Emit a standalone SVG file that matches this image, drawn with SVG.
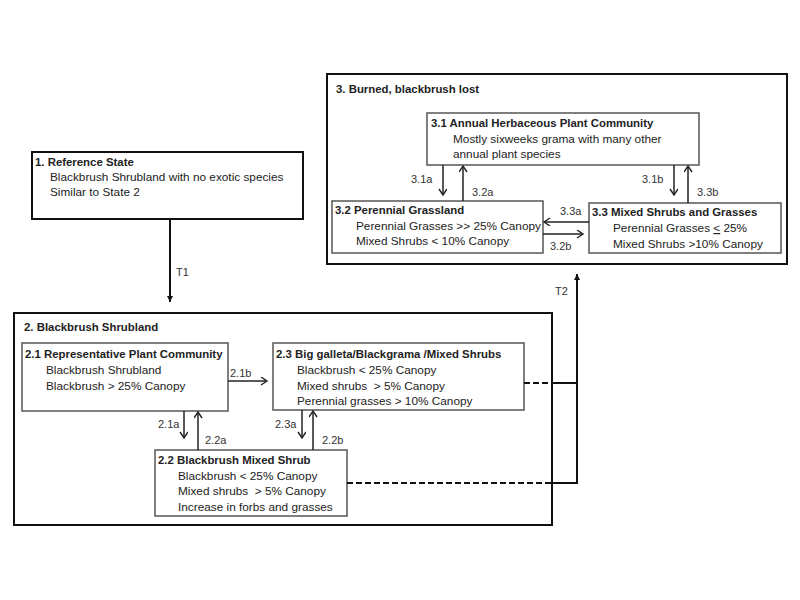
<svg xmlns="http://www.w3.org/2000/svg" width="800" height="600" viewBox="0 0 800 600">
<defs>
<marker id="open" markerWidth="10" markerHeight="10" refX="7" refY="4" orient="auto" markerUnits="userSpaceOnUse">
<path d="M1,0 L7,4 L1,8" fill="none" stroke="#222" stroke-width="1.4"/>
</marker>
<marker id="solid" markerWidth="8" markerHeight="8" refX="6" refY="3" orient="auto" markerUnits="userSpaceOnUse">
<path d="M0,0 L6,3 L0,6 Z" fill="#111"/>
</marker>
<style>
.state{fill:#fff;stroke:#111;stroke-width:2}
.phase{fill:#fff;stroke:#555;stroke-width:1.5}
text{font-family:"Liberation Sans",Arial,sans-serif;font-size:11.8px;fill:#222}
.b{font-weight:bold;font-size:11.4px}
.lbl{font-size:11px;fill:#333}
.tr{stroke:#222;stroke-width:1.5;fill:none;marker-end:url(#open)}
.st{stroke:#111;stroke-width:2;fill:none}
.dash{stroke:#111;stroke-width:2;stroke-dasharray:6,3;fill:none}
</style>
</defs>
<rect width="800" height="600" fill="#fff"/>

<g id="state3">
<rect class="state" x="327" y="74" width="460" height="190"/>
<text class="b" x="336" y="93">3. Burned, blackbrush lost</text>
</g>
<g id="p31">
<rect class="phase" x="427" y="113" width="272" height="52"/>
<text class="b" x="431" y="127">3.1 Annual Herbaceous Plant Community</text>
<text x="453" y="143">Mostly sixweeks grama with many other</text>
<text x="453" y="158">annual plant species</text>
</g>
<g id="p32">
<rect class="phase" x="332" y="201" width="211" height="52"/>
<text class="b" x="335" y="214">3.2 Perennial Grassland</text>
<text x="356" y="230">Perennial Grasses &gt;&gt; 25% Canopy</text>
<text x="356" y="245">Mixed Shrubs &lt; 10% Canopy</text>
</g>
<g id="p33">
<rect class="phase" x="589" y="203" width="192" height="50"/>
<text class="b" x="592" y="216">3.3 Mixed Shrubs and Grasses</text>
<text x="613" y="232">Perennial Grasses <tspan text-decoration="underline">&lt;</tspan> 25%</text>
<text x="613" y="248">Mixed Shrubs &gt;10% Canopy</text>
</g>

<g id="state1">
<rect class="state" x="32" y="152" width="271" height="67"/>
<text class="b" x="35" y="166">1. Reference State</text>
<text x="50" y="181">Blackbrush Shrubland with no exotic species</text>
<text x="50" y="196">Similar to State 2</text>
</g>

<g id="state2">
<rect class="state" x="14" y="313" width="538" height="212"/>
<text class="b" x="24" y="331">2. Blackbrush Shrubland</text>
</g>
<g id="p21">
<rect class="phase" x="22" y="343" width="206" height="68"/>
<text class="b" x="25" y="358">2.1 Representative Plant Community</text>
<text x="46" y="374">Blackbrush Shrubland</text>
<text x="46" y="390">Blackbrush &gt; 25% Canopy</text>
</g>
<g id="p23">
<rect class="phase" x="273" y="343" width="251" height="67"/>
<text class="b" x="276" y="358">2.3 Big galleta/Blackgrama /Mixed Shrubs</text>
<text x="297" y="374">Blackbrush &lt; 25% Canopy</text>
<text x="297" y="390">Mixed shrubs&#160; &gt; 5% Canopy</text>
<text x="297" y="405">Perennial grasses &gt; 10% Canopy</text>
</g>
<g id="p22">
<rect class="phase" x="155" y="450" width="192" height="66"/>
<text class="b" x="158" y="464">2.2 Blackbrush Mixed Shrub</text>
<text x="178" y="480">Blackbrush &lt; 25% Canopy</text>
<text x="178" y="495">Mixed shrubs&#160; &gt; 5% Canopy</text>
<text x="178" y="511">Increase in forbs and grasses</text>
</g>

<g id="connectors">
<line class="st" x1="170" y1="219" x2="170" y2="302" marker-end="url(#solid)"/>
<text class="lbl" x="176" y="276">T1</text>

<path class="dash" d="M524,383 H552"/>
<path class="dash" d="M347,483 H552"/>
<path class="st" d="M552,383 H577"/>
<path class="st" d="M552,483 H577 V274" marker-end="url(#solid)"/>
<text class="lbl" x="555" y="295">T2</text>

<line class="tr" x1="228" y1="381" x2="267" y2="381"/>
<text class="lbl" x="230" y="377">2.1b</text>
<line class="tr" x1="184" y1="411" x2="184" y2="438"/>
<text class="lbl" x="158" y="428">2.1a</text>
<line class="tr" x1="198" y1="450" x2="198" y2="412"/>
<text class="lbl" x="205" y="444">2.2a</text>
<line class="tr" x1="302" y1="410" x2="302" y2="438"/>
<text class="lbl" x="275" y="428">2.3a</text>
<line class="tr" x1="313" y1="450" x2="313" y2="411"/>
<text class="lbl" x="322" y="444">2.2b</text>

<line class="tr" x1="443" y1="165" x2="443" y2="195"/>
<text class="lbl" x="411" y="183">3.1a</text>
<line class="tr" x1="463" y1="201" x2="463" y2="166"/>
<text class="lbl" x="472" y="196">3.2a</text>
<line class="tr" x1="674" y1="165" x2="674" y2="195"/>
<text class="lbl" x="642" y="183">3.1b</text>
<line class="tr" x1="688" y1="203" x2="688" y2="166"/>
<text class="lbl" x="697" y="196">3.3b</text>
<line class="tr" x1="589" y1="222" x2="544" y2="222"/>
<text class="lbl" x="560" y="215">3.3a</text>
<line class="tr" x1="543" y1="234" x2="583" y2="234"/>
<text class="lbl" x="550" y="250">3.2b</text>
</g>
</svg>
